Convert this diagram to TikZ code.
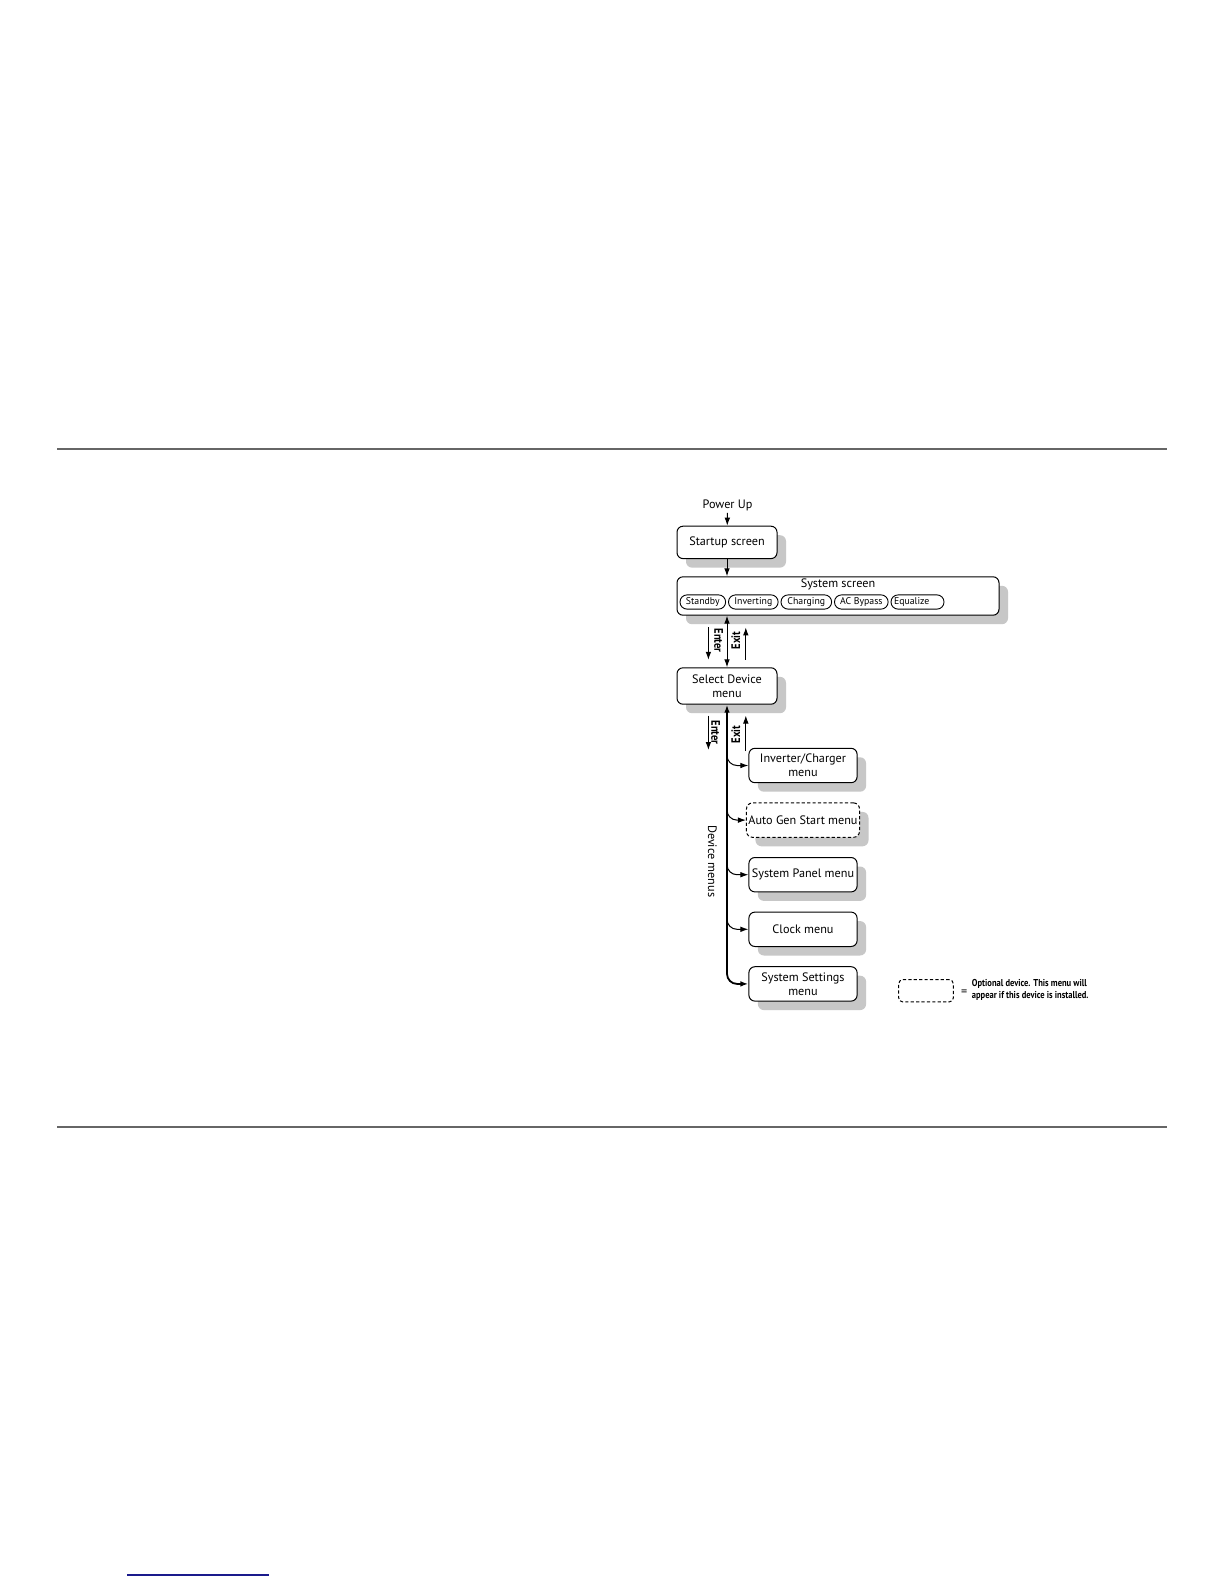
\documentclass[tikz,border=0pt]{standalone}
\usepackage{fontspec}
\setmainfont{PT Sans}
\newfontfamily\condfont[FakeStretch=0.85]{PT Sans}
\usetikzlibrary{arrows.meta}
\usetikzlibrary{positioning}
\usetikzlibrary{shadows}

\definecolor{rulegray}{HTML}{666666}
\definecolor{linkblue}{HTML}{1A1A8C}

\tikzset{
	menubox/.style={draw, rounded corners=3pt, fill=white, line width=0.5pt,
		minimum width=50pt, minimum height=16.2pt, align=center, inner sep=1pt,
		font=\fontsize{6.1}{7.1}\selectfont,
		general shadow={fill=black!22, shadow xshift=4.5pt, shadow yshift=-4.5pt}},
	devbox/.style={menubox, minimum width=54.1pt, minimum height=17.2pt},
	pill/.style={draw, rounded corners=3.5pt, line width=0.45pt, minimum height=7.1pt,
		inner sep=0.5pt, font=\fontsize{4.9}{5}\selectfont},
	arr/.style={-{Latex[length=4pt,width=2.8pt]}, line width=0.5pt},
	dblarr/.style={{Latex[length=4pt,width=2.8pt]}-{Latex[length=4pt,width=2.8pt]}, line width=0.5pt},
	flowlabel/.style={font=\condfont\bfseries\fontsize{6.2}{7}\selectfont, inner sep=0.5pt},
	optdash/.style={dash pattern=on 1.6pt off 1.1pt},
}

\begin{document}
\begin{tikzpicture}[x=0.5pt,y=-0.5pt]
	\useasboundingbox[fill=white] (0,0) rectangle (1224,1584);

	% page rules
	\draw[rulegray, line width=1pt] (57,449) -- (1167,449);
	\draw[rulegray, line width=1pt] (57,1127) -- (1167,1127);
	\draw[linkblue, line width=0.6pt] (127,1575) -- (269,1575);

	% top of the flow
	\node[font=\fontsize{6.1}{7}\selectfont, inner sep=1pt] (power) at (727.5,505) {Power Up};
	\node[menubox] (startup) at (727,542.4) {Startup screen};
	\node[menubox, minimum width=161pt, minimum height=19.2pt] (system) at (838,596) {};
	\node[font=\fontsize{6.1}{7}\selectfont] (systitle) at (838,584) {System screen};

	% system screen states
	\node[pill, minimum width=22.8pt] (standby) at (702.8,602) {Standby};
	\node[pill, minimum width=24.8pt, right=1pt of standby] (inverting) {Inverting};
	\node[pill, minimum width=25.3pt, right=1pt of inverting] (charging) {Charging};
	\node[pill, minimum width=26.8pt, right=1pt of charging] (bypass) {AC Bypass};
	\node[pill, text width=23.5pt, align=left, inner xsep=1.5pt, right=1pt of bypass] (equalize) {Equalize};

	\node[menubox, minimum height=18.2pt] (select) at (727,686) {Select Device\\menu};

	% device menus
	\node[devbox] (inverter) at (803,765.5) {Inverter/Charger\\menu};
	\node[devbox, optdash, below=9.6pt of inverter] (autogen) {Auto Gen Start menu};
	\node[devbox, below=9.6pt of autogen] (panel) {System Panel menu};
	\node[devbox, below=9.6pt of panel] (clock) {Clock menu};
	\node[devbox, below=9.6pt of clock] (settings) {System Settings\\menu};

	% legend
	\node[draw, optdash, rounded corners=2pt, line width=0.5pt, minimum width=27.3pt, minimum height=11.1pt] (optbox) at (926,990.8) {};
	\node[font=\fontsize{6.1}{7}\selectfont, anchor=west, inner sep=0pt] (equals) at ([xshift=3.5pt,yshift=-1pt]optbox.east) {=};
	\node[anchor=west, align=left, inner sep=0pt, font=\condfont\bfseries\fontsize{5}{6.1}\selectfont] (opttext) at (971.5,990)
		{Optional device. This menu will\\appear if this device is installed.};

	% free ends of the enter/exit arrows
	\coordinate (enterA) at (708.4,627.4);
	\coordinate (enterB) at (708.4,659.8);
	\coordinate (exitA) at (745.8,659.8);
	\coordinate (exitB) at (745.8,627.4);
	\coordinate (enterC) at (708.4,715.5);
	\coordinate (enterD) at (708.4,750);
	\coordinate (exitC) at (745.8,751);
	\coordinate (exitD) at (745.8,715.5);

	% connectors
	\draw[arr] (power) -- (startup);
	\draw[arr] (startup.south) -- (startup.south |- system.north);
	\draw[dblarr] (system.south -| select.north) -- (select.north);
	\draw[arr] (enterA) -- (enterB);
	\draw[arr] (exitA) -- (exitB);
	\draw[arr] (enterC) -- (enterD);
	\draw[arr] (exitC) -- (exitD);
	\node[flowlabel, rotate=-90] (enter1) at (718.5,640.6) {Enter};
	\node[flowlabel, rotate=90] (exit1) at (735.7,640.6) {Exit};
	\node[flowlabel, rotate=-90] (enter2) at (715.5,732.5) {Enter};
	\node[flowlabel, rotate=90] (exit2) at (735.7,734.5) {Exit};

	\draw[dblarr, line width=0.9pt, rounded corners=5pt] (select.south) |- (settings.west);
	\draw[arr, rounded corners=5pt] (select.south |- inverter.north) |- (inverter.west);
	\draw[arr, rounded corners=5pt] (select.south |- autogen.north) |- (autogen.west);
	\draw[arr, rounded corners=5pt] (select.south |- panel.north) |- (panel.west);
	\draw[arr, rounded corners=5pt] (select.south |- clock.north) |- (clock.west);
	\node[font=\fontsize{6.1}{7}\selectfont, rotate=-90] (devlabel) at (712.4,861.2) {Device menus};
\end{tikzpicture}
\end{document}
